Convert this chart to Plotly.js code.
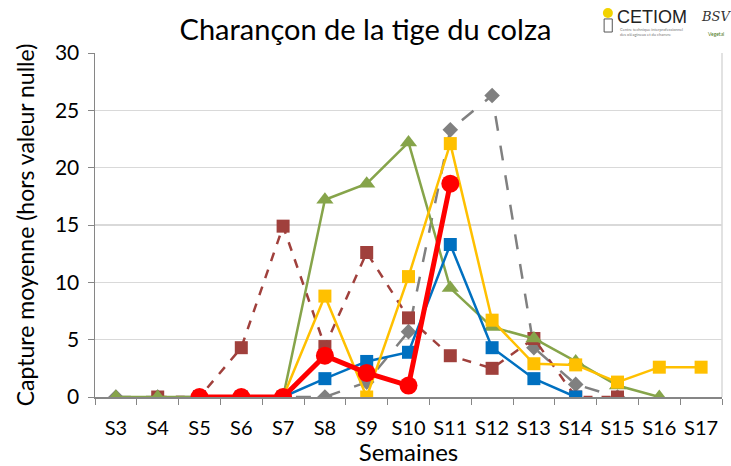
<!DOCTYPE html>
<html>
<head>
<meta charset="utf-8">
<script src="https://cdn.plot.ly/plotly-3.0.1.min.js"></script>
<style>html,body{margin:0;padding:0;background:#fff}#chart{width:731px;height:466px}</style>
</head>
<body>
<div id="chart"></div>
<script>
const weeks = ["S3","S4","S5","S6","S7","S8","S9","S10","S11","S12","S13","S14","S15","S16","S17"];

// Series values (null = no point)
const greenTri   = [0, 0, 0, 0, 0, 17.2, 18.6, 22.2, 9.5, 6.1, 5.1, 3.1, 1.0, 0, null];
const redDashSq  = [null, 0, 0, 4.3, 14.9, 4.4, 12.6, 6.9, 3.6, 2.5, 5.1, 0, 0, null, null];
const grayDiam   = [0, 0, 0, 0, 0, 0, 1.3, 5.7, 23.3, 26.3, 4.3, 1.1, 0, null, null];
const yellowSq   = [null, null, null, null, 0, 8.8, 0, 10.5, 22.1, 6.7, 2.9, 2.8, 1.3, 2.6, 2.6];
const blueSq     = [null, null, 0, 0, 0, 1.6, 3.1, 3.9, 13.3, 4.3, 1.6, 0, null, null, null];
const redCircle  = [null, null, 0, 0, 0, 3.6, 2.1, 1.0, 18.6, null, null, null, null, null, null];

const yTicks = [0, 5, 10, 15, 20, 25, 30];

const font = "Lato, 'Open Sans', sans-serif";

const traces = [
  {x: weeks, y: grayDiam, mode: "lines+markers", line: {color: "#808080", width: 2.5, dash: "longdash"},
   marker: {symbol: "diamond", size: 12, color: "#808080"}},
  {x: weeks, y: redDashSq, mode: "lines+markers", line: {color: "#A0403C", width: 2.5, dash: "dash"},
   marker: {symbol: "square", size: 13, color: "#A0403C"}},
  {x: weeks, y: greenTri, mode: "lines+markers", line: {color: "#86A44A", width: 2.5},
   marker: {symbol: "triangle-up", size: 15, color: "#86A44A"}},
  {x: weeks, y: blueSq, mode: "lines+markers", line: {color: "#0070C0", width: 2.5},
   marker: {symbol: "square", size: 13, color: "#0070C0"}},
  {x: weeks, y: yellowSq, mode: "lines+markers", line: {color: "#FFC000", width: 2.5},
   marker: {symbol: "square", size: 13, color: "#FFC000"}},
  {x: weeks, y: redCircle, mode: "lines+markers", line: {color: "#FF0000", width: 5},
   marker: {symbol: "circle", size: 18, color: "#FF0000"}}
];

const layout = {
  width: 731, height: 466,
  margin: {l: 95, r: 9, t: 53, b: 69},
  paper_bgcolor: "#fff", plot_bgcolor: "#fff",
  showlegend: false,
  font: {family: font, color: "#000", size: 18},
  title: {text: "Charançon de la tige du colza", font: {family: font, size: 29, color: "#000"},
          x: 0.5, xref: "container", xanchor: "center", y: 0.935, yanchor: "middle"},
  xaxis: {
    type: "category", range: [-0.5, 14.5], showgrid: false,
    showline: true, linecolor: "#868686", linewidth: 1.5,
    ticks: "outside", tickson: "boundaries", ticklen: 6, tickcolor: "#868686",
    tickangle: 0,
    tickfont: {size: 20, family: font}, ticklabelstandoff: 12, zeroline: false,
    title: {text: "Semaines", font: {size: 24, family: font}, standoff: 2}
  },
  yaxis: {
    range: [0, 30], tickvals: yTicks, showgrid: true, gridcolor: "#D9D9D9", gridwidth: 1.5,
    showline: true, linecolor: "#868686", linewidth: 1.5, zeroline: false,
    ticks: "outside", ticklen: 6, tickcolor: "#868686",
    tickfont: {size: 21, family: font}, ticklabelstandoff: 4,
    title: {text: "Capture moyenne (hors valeur nulle)", font: {size: 23, family: font}, standoff: 14}
  },
  shapes: [
    {type: "line", xref: "paper", yref: "paper", x0: 1, x1: 1, y0: 0, y1: 1,
     line: {color: "#D9D9D9", width: 1.5}},
    {type: "circle", xref: "paper", yref: "paper", x0: 0.810, x1: 0.826, y0: 1.102, y1: 1.131,
     fillcolor: "#F2D300", line: {width: 0}},
    {type: "rect", xref: "paper", yref: "paper", x0: 0.812, x1: 0.825, y0: 1.061, y1: 1.099,
     fillcolor: "#fff", line: {color: "#555", width: 1}}
  ],
  annotations: [
    {text: "CETIOM", xref: "paper", yref: "paper", x: 0.829, y: 1.105, xanchor: "left", yanchor: "middle",
     showarrow: false, font: {family: "Liberation Sans, Arial, sans-serif", size: 18, color: "#222"}},
    {text: "Centre technique interprofessionnel<br>des oléagineux et du chanvre", xref: "paper", yref: "paper",
     x: 0.834, y: 1.06, xanchor: "left", yanchor: "middle", align: "left", showarrow: false,
     font: {family: font, size: 4, color: "#777"}},
    {text: "<i>BSV</i>", xref: "paper", yref: "paper", x: 0.990, y: 1.105, xanchor: "center", yanchor: "middle",
     showarrow: false, font: {family: "DejaVu Serif, serif", size: 13, color: "#333"}},
    {text: "Vegetal", xref: "paper", yref: "paper", x: 0.990, y: 1.055, xanchor: "center", yanchor: "middle",
     showarrow: false, font: {family: font, size: 5, color: "#4a7a20"}}
  ]
};

Plotly.newPlot("chart", traces, layout, {displayModeBar: false, staticPlot: true});
</script>
</body>
</html>
